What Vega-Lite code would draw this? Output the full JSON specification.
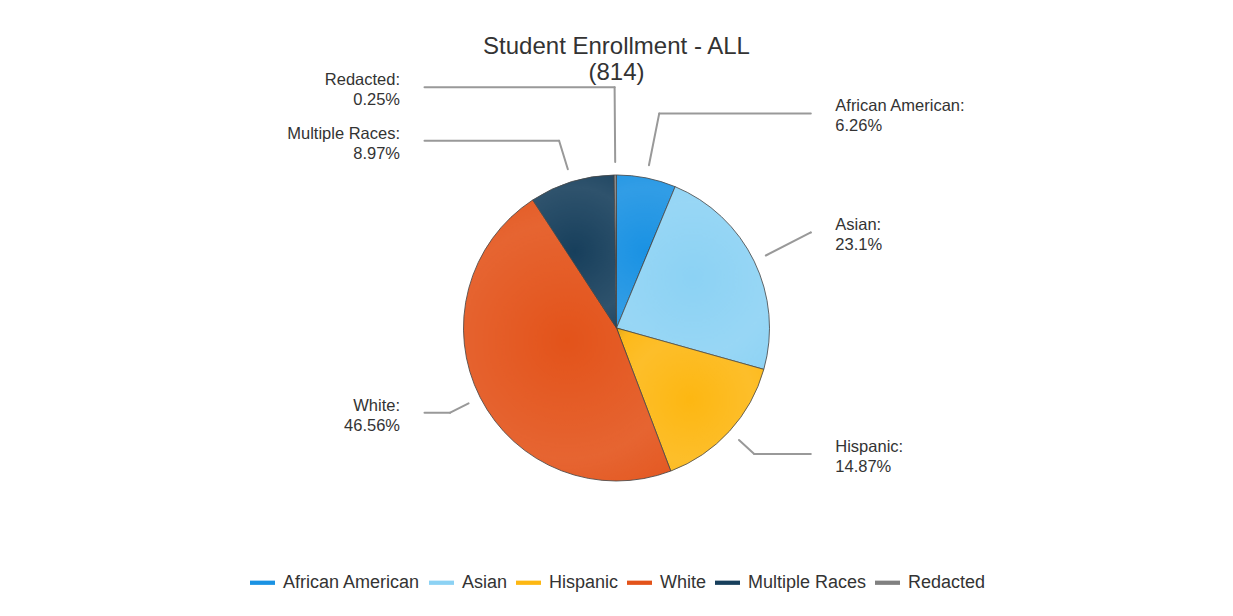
{
  "$schema": "https://vega.github.io/schema/vega-lite/v6.json",
  "width": 1233,
  "height": 455,
  "autosize": "none",
  "padding": {"left": 0, "right": 0, "top": 100, "bottom": 61},
  "background": "white",
  "config": {
    "view": {"stroke": null},
    "font": "Liberation Sans",
    "legend": {
      "orient": "none",
      "legendX": 250,
      "legendY": 470,
      "direction": "horizontal",
      "symbolType": "M-1,-0.17H1V0.17H-1Z",
      "symbolStrokeWidth": 0,
      "symbolSize": 625,
      "labelFontSize": 18,
      "labelColor": "#333333",
      "labelFont": "Liberation Sans",
      "columnPadding": 8,
      "labelOffset": 8
    }
  },
  "title": {
    "text": "Student Enrollment - ALL",
    "subtitle": "(814)",
    "fontSize": 24,
    "subtitleFontSize": 24,
    "fontWeight": "normal",
    "color": "#333333",
    "subtitleColor": "#333333",
    "font": "Liberation Sans",
    "subtitleFont": "Liberation Sans",
    "anchor": "middle",
    "subtitlePadding": 2,
    "offset": -1,
    "dy": 12
  },
  "data": {
    "values": [
      {"category": "African American", "value": 6.26, "order": 1},
      {"category": "Asian", "value": 23.1, "order": 2},
      {"category": "Hispanic", "value": 14.87, "order": 3},
      {"category": "White", "value": 46.56, "order": 4},
      {"category": "Multiple Races", "value": 8.97, "order": 5},
      {"category": "Redacted", "value": 0.25, "order": 6}
    ]
  },
  "layer": [
    {
      "mark": {"type": "arc", "outerRadius": 153, "stroke": "#3a3a3a", "strokeWidth": 0.8},
      "encoding": {
        "theta": {"field": "value", "type": "quantitative", "stack": true},
        "order": {"field": "order", "type": "quantitative"},
        "color": {
          "field": "category",
          "type": "nominal",
          "scale": {
            "domain": ["African American", "Asian", "Hispanic", "White", "Multiple Races", "Redacted"],
            "range": ["#1a92e3", "#8cd2f4", "#fdb712", "#e3531a", "#173f5c", "#808080"]
          },
          "legend": {"title": null}
        },
        "x": {"datum": 0, "type": "quantitative", "scale": {"domain": [-4.0294, 4.0294], "nice": false, "zero": false}, "axis": null},
        "y": {"datum": 0, "type": "quantitative", "scale": {"domain": [-1.4837, 1.4902], "nice": false, "zero": false}, "axis": null}
      }
    },
    {
      "mark": {
        "type": "arc",
        "outerRadius": 153,
        "strokeWidth": 0,
        "fill": {
          "gradient": "radial",
          "x1": 0.5, "y1": 0.5, "x2": 0.5, "y2": 0.5, "r1": 0, "r2": 0.7,
          "stops": [
            {"offset": 0, "color": "rgba(255,255,255,0)"},
            {"offset": 0.6, "color": "rgba(255,255,255,0.1)"},
            {"offset": 0.85, "color": "rgba(255,255,255,0.04)"},
            {"offset": 1, "color": "rgba(0,0,0,0.14)"}
          ]
        }
      },
      "encoding": {
        "theta": {"field": "value", "type": "quantitative", "stack": true},
        "order": {"field": "order", "type": "quantitative"},
        "x": {"datum": 0, "type": "quantitative", "scale": {"domain": [-4.0294, 4.0294], "nice": false, "zero": false}, "axis": null},
        "y": {"datum": 0, "type": "quantitative", "scale": {"domain": [-1.4837, 1.4902], "nice": false, "zero": false}, "axis": null}
      }
    },
    {
      "transform": [
        {"joinaggregate": [{"op": "sum", "field": "value", "as": "total"}]},
        {"stack": "value", "groupby": [], "sort": [{"field": "order", "order": "ascending"}], "as": ["v0", "v1"]},
        {"calculate": "PI * (datum.v0 + datum.v1) / datum.total", "as": "a"},
        {"calculate": "sin(datum.a) >= 0 ? 1 : -1", "as": "side"},
        {"calculate": "cos(datum.a) * (cos(datum.a) > 0 ? 1.43 : 1.22)", "as": "ly0"},
        {"window": [{"op": "lag", "field": "ly0", "as": "prev"}, {"op": "lead", "field": "ly0", "as": "next"}], "groupby": ["side"], "sort": [{"field": "ly0", "order": "descending"}]},
        {"calculate": "datum.ly0 - (datum.prev != null && datum.prev - datum.ly0 < 0.35 ? (0.35 - datum.prev + datum.ly0) / 2 : 0) + (datum.next != null && datum.ly0 - datum.next < 0.35 ? (0.35 - datum.ly0 + datum.next) / 2 : 0)", "as": "ly"},
        {"calculate": "sin(datum.a) * 1.085", "as": "sx"},
        {"calculate": "cos(datum.a) * 1.085", "as": "sy"},
        {"calculate": "datum.side > 0 ? 1.27 : -1.255", "as": "cx"},
        {"calculate": "datum.side > 0 ? min(datum.ly * tan(datum.a), datum.cx) : max(datum.ly * tan(datum.a), datum.cx)", "as": "ex"},
        {"calculate": "datum.side > 0 ? 1.43 : -1.415", "as": "tx"},
        {"calculate": "datum.category + ':\\n' + datum.value + '%'", "as": "lab"}
      ],
      "layer": [
        {
          "mark": {"type": "rule", "color": "#999999", "strokeWidth": 2, "strokeCap": "round"},
          "encoding": {
            "x": {"field": "sx", "type": "quantitative", "scale": {"domain": [-4.0294, 4.0294], "nice": false, "zero": false}, "axis": null},
            "y": {"field": "sy", "type": "quantitative", "scale": {"domain": [-1.4837, 1.4902], "nice": false, "zero": false}, "axis": null},
            "x2": {"field": "ex"},
            "y2": {"field": "ly"}
          }
        },
        {
          "mark": {"type": "rule", "color": "#999999", "strokeWidth": 2, "strokeCap": "round"},
          "encoding": {
            "x": {"field": "ex", "type": "quantitative", "scale": {"domain": [-4.0294, 4.0294], "nice": false, "zero": false}, "axis": null},
            "y": {"field": "ly", "type": "quantitative", "scale": {"domain": [-1.4837, 1.4902], "nice": false, "zero": false}, "axis": null},
            "x2": {"field": "cx"},
            "y2": {"field": "ly"}
          }
        },
        {
          "transform": [{"filter": "datum.side > 0"}],
          "mark": {"type": "text", "align": "left", "baseline": "middle", "dy": -7, "fontSize": 16.5, "lineHeight": 20, "color": "#333333", "lineBreak": "\n", "font": "Liberation Sans"},
          "encoding": {
            "x": {"field": "tx", "type": "quantitative", "scale": {"domain": [-4.0294, 4.0294], "nice": false, "zero": false}, "axis": null},
            "y": {"field": "ly", "type": "quantitative", "scale": {"domain": [-1.4837, 1.4902], "nice": false, "zero": false}, "axis": null},
            "text": {"field": "lab", "type": "nominal"}
          }
        },
        {
          "transform": [{"filter": "datum.side < 0"}],
          "mark": {"type": "text", "align": "right", "baseline": "middle", "dy": -7, "fontSize": 16.5, "lineHeight": 20, "color": "#333333", "lineBreak": "\n", "font": "Liberation Sans"},
          "encoding": {
            "x": {"field": "tx", "type": "quantitative", "scale": {"domain": [-4.0294, 4.0294], "nice": false, "zero": false}, "axis": null},
            "y": {"field": "ly", "type": "quantitative", "scale": {"domain": [-1.4837, 1.4902], "nice": false, "zero": false}, "axis": null},
            "text": {"field": "lab", "type": "nominal"}
          }
        }
      ]
    }
  ]
}
